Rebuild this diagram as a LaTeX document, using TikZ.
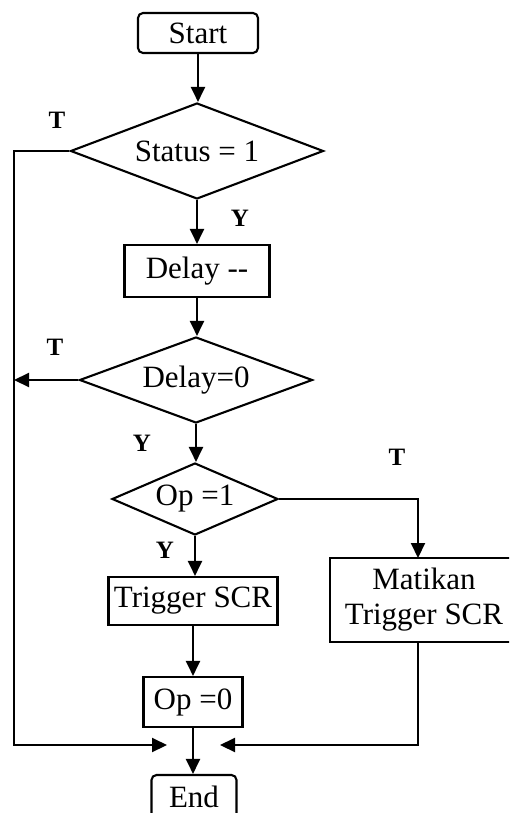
\documentclass[tikz,border=0pt]{standalone}
\usepackage{fontspec}
\setmainfont{Liberation Serif}
\usetikzlibrary{shapes.geometric,arrows.meta}
\tikzset{
  every picture/.style={x=1pt,y=-1pt},
  base/.style={draw, line width=2.1pt, inner sep=0pt, font=\fontsize{31}{35}\selectfont, align=center},
  procbox/.style={base, rectangle},
  termbox/.style={base, rectangle, rounded corners=5pt},
  decbox/.style={base, diamond},
  conn/.style={line width=2.1pt},
  arr/.style={conn, -{Triangle[length=15pt,width=14pt]}},
  lbl/.style={font=\fontsize{25}{27}\selectfont\bfseries, inner sep=0pt}
}
\begin{document}
\begin{tikzpicture}[x=1pt,y=-1pt]
\useasboundingbox (0,0) rectangle (509,813);
\clip (0,0) rectangle (509,813);
% nodes
\node[termbox, minimum width=120pt, minimum height=40pt] (start) at (198,33) {Start};
\node[decbox, aspect=2.64, minimum width=253pt, minimum height=96pt] (d1) at (197,151) {Status = 1};
\node[procbox, minimum width=145pt, minimum height=52pt] (delay) at (197,271) {Delay -{}-};
\node[decbox, aspect=2.71, minimum width=233pt, minimum height=86pt] (d2) at (196,380) {Delay=0};
\node[decbox, aspect=2.31, minimum width=166pt, minimum height=72pt] (d3) at (195,499) {Op =1};
\node[procbox, minimum width=169pt, minimum height=48pt] (trig) at (193,601) {Trigger SCR};
\node[procbox, minimum width=188pt, minimum height=84pt] (mat) at (424,600) {Matikan\\Trigger SCR};
\node[procbox, minimum width=99pt, minimum height=50pt] (op0) at (193,702) {Op =0};
\node[termbox, minimum width=85pt, minimum height=44pt] (end) at (194,797) {End};
% labels
\node[lbl] (t1) at (57,120) {T};
\node[lbl] (y1) at (240,218) {Y};
\node[lbl] (t2) at (55,347) {T};
\node[lbl] (y2) at (142,443) {Y};
\node[lbl] (t3) at (397,457) {T};
\node[lbl] (y3) at (165,550) {Y};
% helper coordinates
\coordinate (lc) at (14,745);
\coordinate (ml) at (167,745);
\coordinate (mt) at (418,558);
\coordinate (mb) at (418,642);
\coordinate (mr) at (220,745);
% connectors
\draw[arr] (start.south) -- (start.south |- d1.north);
\draw[arr] (d1.south) -- (d1.south |- delay.north);
\draw[arr] (delay.south) -- (delay.south |- d2.north);
\draw[arr] (d2.south) -- (d2.south |- d3.north);
\draw[arr] (d3.south) -- (d3.south |- trig.north);
\draw[arr] (trig.south) -- (trig.south |- op0.north);
\draw[arr] (op0.south) -- (op0.south |- end.north);
\draw[arr] (d1.west) -| (lc) -- (ml);
\draw[arr] (d2.west) -- (d2.west -| lc);
\draw[arr] (d3.east) -| (mt);
\draw[arr] (mb) |- (mr);
\end{tikzpicture}
\end{document}
